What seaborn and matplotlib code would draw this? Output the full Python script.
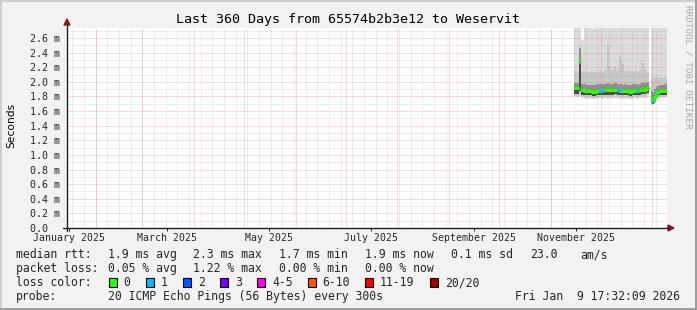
import numpy as np
import pandas as pd
import matplotlib
matplotlib.use("Agg")
import matplotlib.pyplot as plt
import matplotlib.dates as mdates
from matplotlib.patches import Rectangle, Polygon
from matplotlib.lines import Line2D
from matplotlib.ticker import MultipleLocator
import seaborn as sns

# ---------------- data ----------------
title = "Last 360 Days from 65574b2b3e12 to Weservit"
view_start = "2025-01-14 17:32:09"
view_end = "2026-01-09 17:32:09"
first_day = "2025-11-15 12:00"   # centre of first daily sample

nan = float("nan")
# median rtt per day (ms)
median_ms = [1.91, 1.91, 1.91, 2.27, 1.885, 1.885, 1.88, 1.87, 1.87, 1.87,
             1.87, 1.865, 1.86, 1.875, 1.88, 1.88, 1.88, 1.885, 1.885, 1.885,
             1.885, 1.885, 1.885, 1.885, 1.89, 1.895, 1.885, 1.88, 1.875, 1.87,
             1.875, 1.87, 1.87, 1.865, 1.86, 1.88, 1.885, 1.875, 1.87, 1.885,
             1.89, 1.895, 1.895, 1.905, 1.91, nan, 1.75, 1.735, 1.79, 1.84,
             1.855, 1.87, 1.875, 1.875, 1.88, 1.88]
# lost pings per day (of 20)
loss = [0, 0, 0, 0, 0, 0, 0, 0, 0, 0,
        0, 0, 0, 0, 0, 1, 1, 1, 0, 0,
        0, 0, 0, 0, 0, 0, 1, 1, 0, 0,
        0, 0, 0, 0, 0, 0, 0, 1, 1, 0,
        0, 0, 0, 0, 0, 0, 0, 1, 0, 1,
        0, 0, 0, 0, 0, 0]
# smoke: distribution of the 20 pings per day (ms)
smoke_min = [1.80, 1.79, 1.79, 1.81, 1.77, 1.775, 1.77, 1.77, 1.765, 1.77,
             1.77, 1.765, 1.765, 1.77, 1.77, 1.775, 1.77, 1.77, 1.775, 1.77,
             1.77, 1.775, 1.77, 1.77, 1.775, 1.78, 1.77, 1.77, 1.77, 1.765,
             1.77, 1.765, 1.765, 1.76, 1.76, 1.77, 1.775, 1.77, 1.77, 1.775,
             1.78, 1.78, 1.785, 1.79, 1.79, nan, 1.70, 1.69, 1.72, 1.76,
             1.775, 1.775, 1.78, 1.775, 1.78, 1.78]
smoke_p10 = [1.81, 1.81, 1.81, 1.84, 1.795, 1.80, 1.795, 1.79, 1.79, 1.79,
             1.79, 1.785, 1.785, 1.79, 1.795, 1.795, 1.795, 1.80, 1.80, 1.80,
             1.80, 1.80, 1.80, 1.80, 1.805, 1.805, 1.80, 1.795, 1.795, 1.79,
             1.795, 1.79, 1.79, 1.785, 1.785, 1.795, 1.80, 1.795, 1.79, 1.80,
             1.805, 1.81, 1.81, 1.815, 1.82, nan, 1.705, 1.695, 1.73, 1.775,
             1.79, 1.795, 1.80, 1.80, 1.80, 1.80]
smoke_p25 = [1.84, 1.84, 1.84, 1.88, 1.825, 1.825, 1.82, 1.815, 1.815, 1.815,
             1.815, 1.81, 1.81, 1.815, 1.82, 1.82, 1.82, 1.825, 1.825, 1.825,
             1.825, 1.825, 1.825, 1.825, 1.83, 1.835, 1.825, 1.82, 1.82, 1.815,
             1.82, 1.815, 1.815, 1.81, 1.81, 1.82, 1.825, 1.82, 1.815, 1.825,
             1.83, 1.835, 1.835, 1.845, 1.85, nan, 1.71, 1.70, 1.74, 1.79,
             1.81, 1.815, 1.82, 1.82, 1.825, 1.825]
smoke_p75 = [1.99, 1.99, 1.99, 2.46, 1.97, 1.97, 1.965, 1.96, 1.96, 1.96,
             1.96, 1.955, 1.955, 1.965, 1.97, 1.97, 1.97, 1.975, 1.975, 1.975,
             1.98, 1.975, 1.975, 1.975, 1.98, 1.985, 1.975, 1.97, 1.965, 1.96,
             1.965, 1.96, 1.96, 1.955, 1.955, 1.97, 1.975, 1.965, 1.96, 1.975,
             1.98, 1.985, 1.985, 1.99, 1.995, nan, 1.88, 1.86, 1.90, 1.93,
             1.95, 1.955, 1.96, 1.96, 1.965, 1.965]
smoke_p90 = [2.15, 2.15, 2.12, 2.50, 2.14, 2.13, 2.15, 2.14, 2.13, 2.14,
             2.15, 2.14, 2.13, 2.12, 2.14, 2.15, 2.13, 2.14, 2.16, 2.15,
             2.50, 2.22, 2.15, 2.16, 2.22, 2.16, 2.15, 2.35, 2.30, 2.25,
             2.15, 2.14, 2.16, 2.15, 2.14, 2.13, 2.15, 2.16, 2.14, 2.15,
             2.30, 2.26, 2.16, 2.15, 2.14, nan, 2.05, 2.04, 2.06, 2.08,
             2.05, 2.06, 2.07, 2.05, 2.06, 2.05]
smoke_max = [2.80, 2.80, 2.80, 2.80, 2.57, 2.57, 2.80, 2.80, 2.80, 2.80,
             2.80, 2.72, 2.80, 2.80, 2.80, 2.80, 2.80, 2.80, 2.80, 2.80,
             2.80, 2.80, 2.80, 2.80, 2.80, 2.80, 2.80, 2.80, 2.80, 2.80,
             2.80, 2.80, 2.80, 2.80, 2.80, 2.80, 2.80, 2.80, 2.80, 2.80,
             2.80, 2.80, 2.80, 2.80, 2.80, nan, 2.80, 2.80, 2.80, 2.80,
             2.80, 2.80, 2.80, 2.80, 2.80, 2.80]

y_ticks = [0.0, 0.2, 0.4, 0.6, 0.8, 1.0, 1.2, 1.4, 1.6, 1.8, 2.0, 2.2, 2.4, 2.6]
y_top = 2.737
month_labels = ["January 2025", "March 2025", "May 2025", "July 2025",
                "September 2025", "November 2025"]
month_label_dates = ["2025-01-16", "2025-03-16", "2025-05-16", "2025-07-16",
                     "2025-09-16", "2025-11-16"]

loss_names = ["0", "1", "2", "3", "4-5", "6-10", "11-19", "20/20"]
loss_colors = ["#26FF00", "#00B8FF", "#0059FF", "#7E00FF", "#FF00EA",
               "#FF5500", "#FF0000", "#A10000"]

stats_rtt = ["1.9 ms avg", "2.3 ms max", "1.7 ms min", "1.9 ms now",
             "0.1 ms sd", "23.0", "am/s"]
stats_loss = ["0.05 % avg", "1.22 % max", "0.00 % min", "0.00 % now"]
probe_text = "20 ICMP Echo Pings (56 Bytes) every 300s"
stamp_text = "Fri Jan  9 17:32:09 2026"

# ---------------- figure ----------------
sns.set_theme(style="white")
MONO = ["DejaVu Sans Mono"]
plt.rcParams["font.family"] = MONO

W, H = 697, 310
fig = plt.figure(figsize=(W / 100, H / 100), dpi=100, facecolor="#F2F2F2")


def fx(px):
    return px / W


def fy(py):
    return 1 - py / H


ax = fig.add_axes([fx(67), fy(228), 600 / W, 200 / H])
ax.set_facecolor("white")
for s in ax.spines.values():
    s.set_visible(False)

dates = pd.date_range(first_day, periods=len(median_ms), freq="D")
x = mdates.date2num(dates.to_pydatetime())
med = np.array(median_ms, dtype=float)
# connection units: break at the gap and isolate the spike day
jump = np.abs(np.diff(np.nan_to_num(med), prepend=med[0])) > 0.2
unit = np.cumsum(np.isnan(med) | jump)
df = pd.DataFrame({"x": x, "median": med, "unit": unit})


# smoke drawn as one bar per day (low .. high)
def smoke_band(lo, hi, color, z):
    lo = np.asarray(lo, dtype=float)
    hi = np.asarray(hi, dtype=float)
    ok = ~(np.isnan(lo) | np.isnan(hi))
    ax.bar(x[ok], hi[ok] - lo[ok], bottom=lo[ok], width=1.04, color=color,
           lw=0, align="center", zorder=z, antialiased=False)


smoke_band(smoke_min, smoke_max, "#DCDCDC", 1.0)
smoke_band(smoke_p10, smoke_p90, "#C8C8C8", 1.1)
smoke_band(smoke_p25, smoke_p75, "#8E8E8E", 1.2)
smoke_band(smoke_p25, median_ms, "#4A4A4A", 1.3)

# median line (steps, coloured by loss)
green = loss_colors[0]
sns.lineplot(data=df.dropna(), x="x", y="median", units="unit", estimator=None,
             color=green, lw=2.2, drawstyle="steps-mid", ax=ax, zorder=3,
             legend=False)
for xi, mi, li in zip(x, median_ms, loss):
    if not np.isnan(mi):
        c = loss_colors[0] if li == 0 else (loss_colors[1] if li == 1 else loss_colors[2])
        ax.hlines(mi, xi - 0.5, xi + 0.5, color=c, lw=2.2, zorder=4)

# axes limits
x0 = mdates.date2num(pd.Timestamp(view_start).to_pydatetime())
x1 = mdates.date2num(pd.Timestamp(view_end).to_pydatetime())
ax.set_xlim(x0, x1)
ax.set_ylim(0, y_top)
ax.set_xlabel("")
ax.set_ylabel("")

# grids
GRID_LS = (0, (1, 1))
ax.set_axisbelow(False)
ax.yaxis.set_minor_locator(MultipleLocator(0.1))
ax.set_yticks(y_ticks)
ax.set_yticklabels([("%.1f m" % v) if v > 0 else "0.0  " for v in y_ticks],
                   fontsize=7.2, family=MONO)
ax.grid(False)
ax.yaxis.grid(True, which="major", color="#E27070", alpha=0.5, lw=0.72,
              linestyle=GRID_LS)
ax.yaxis.grid(True, which="minor", color="#9A9A9A", alpha=0.35, lw=0.72,
              linestyle=GRID_LS)
ax.xaxis.set_minor_locator(mdates.WeekdayLocator(byweekday=mdates.SA))
ax.xaxis.grid(True, which="minor", color="#9A9A9A", alpha=0.35, lw=0.72,
              linestyle=GRID_LS)
for m in pd.date_range("2025-02-01", "2026-01-01", freq="MS"):
    ax.axvline(mdates.date2num(m.to_pydatetime()), color="#E27070", alpha=0.5,
               lw=0.72, linestyle=GRID_LS, zorder=2.5)

lab_x = [mdates.date2num(pd.Timestamp(d).to_pydatetime()) for d in month_label_dates]
ax.set_xticks(lab_x)
ax.set_xticklabels(month_labels, fontsize=7.1, family=MONO)
ax.tick_params(axis="x", which="major", length=2.2, width=0.7, color="#1F1F1F",
               pad=1.6, direction="out", bottom=True)
ax.tick_params(axis="x", which="minor", length=0)
ax.tick_params(axis="y", which="both", length=0, pad=26.6)
for t in ax.get_yticklabels():
    t.set_horizontalalignment("left")

# axis lines with arrows
axis_col = "#1F1F1F"
arrow_col = "#801F1F"
fig.add_artist(Line2D([fx(63), fx(669)], [fy(228), fy(228)], color=axis_col,
                      lw=1.0, transform=fig.transFigure))
fig.add_artist(Line2D([fx(67), fx(67)], [fy(231), fy(25)], color=axis_col,
                      lw=1.0, transform=fig.transFigure))
fig.add_artist(Polygon([[fx(668), fy(225)], [fx(668), fy(231)], [fx(674), fy(228)]],
                       closed=True, color=arrow_col, transform=fig.transFigure))
fig.add_artist(Polygon([[fx(64), fy(25)], [fx(70), fy(25)], [fx(67), fy(19)]],
                       closed=True, color=arrow_col, transform=fig.transFigure))

# borders
fig.add_artist(Rectangle((0, fy(2)), 1, 2 / H, color="#CFCFCF", lw=0,
                         transform=fig.transFigure))
fig.add_artist(Rectangle((0, 0), 2 / W, 1, color="#CFCFCF", lw=0,
                         transform=fig.transFigure))
fig.add_artist(Rectangle((0, 0), 1, 2 / H, color="#9E9E9E", lw=0,
                         transform=fig.transFigure))
fig.add_artist(Rectangle((fx(695), 0), 2 / W, 1, color="#9E9E9E", lw=0,
                         transform=fig.transFigure))

# texts
fig.text(fx(347.5), fy(19), title, ha="center", va="center", fontsize=9.6,
         family=MONO, color="black")
fig.text(fx(11), fy(125), "Seconds", rotation=90, ha="center", va="center",
         fontsize=7.7, family=["DejaVu Sans"], color="black")
fig.text(fx(688), fy(5), "RRDTOOL / TOBI OETIKER", rotation=270, ha="center",
         va="top", fontsize=6.7, family=MONO, color="#A8A8A8")

fs = 8.3
rows_y = [258, 272, 286, 300]
fig.text(fx(16), fy(rows_y[0]), "median rtt:", fontsize=fs, family=MONO, va="baseline")
for xp, s in zip([107.5, 193, 279, 365, 451, 530, 580], stats_rtt):
    fig.text(fx(xp), fy(rows_y[0]), s, fontsize=fs, family=MONO, va="baseline")
fig.text(fx(16), fy(rows_y[1]), "packet loss:", fontsize=fs, family=MONO, va="baseline")
for xp, s in zip([107.5, 193, 279, 365], stats_loss):
    fig.text(fx(xp), fy(rows_y[1]), s, fontsize=fs, family=MONO, va="baseline")
fig.text(fx(16), fy(rows_y[2]), "loss color:", fontsize=fs, family=MONO, va="baseline")
for xp, name, col in zip([108.5, 146, 183, 220, 257, 307.5, 365, 430],
                         loss_names, loss_colors):
    fig.add_artist(Rectangle((fx(xp), fy(287)), 8 / W, 9 / H, facecolor=col,
                             edgecolor="black", lw=0.8, transform=fig.transFigure))
    fig.text(fx(xp + 15), fy(rows_y[2]), name, fontsize=fs, family=MONO, va="baseline")
fig.text(fx(16), fy(rows_y[3]), "probe:", fontsize=fs, family=MONO, va="baseline")
fig.text(fx(107.5), fy(rows_y[3]), probe_text, fontsize=fs, family=MONO, va="baseline")
fig.text(fx(680), fy(rows_y[3]), stamp_text, fontsize=fs, family=MONO,
         va="baseline", ha="right")

fig.savefig("out.png", dpi=100, facecolor=fig.get_facecolor())
